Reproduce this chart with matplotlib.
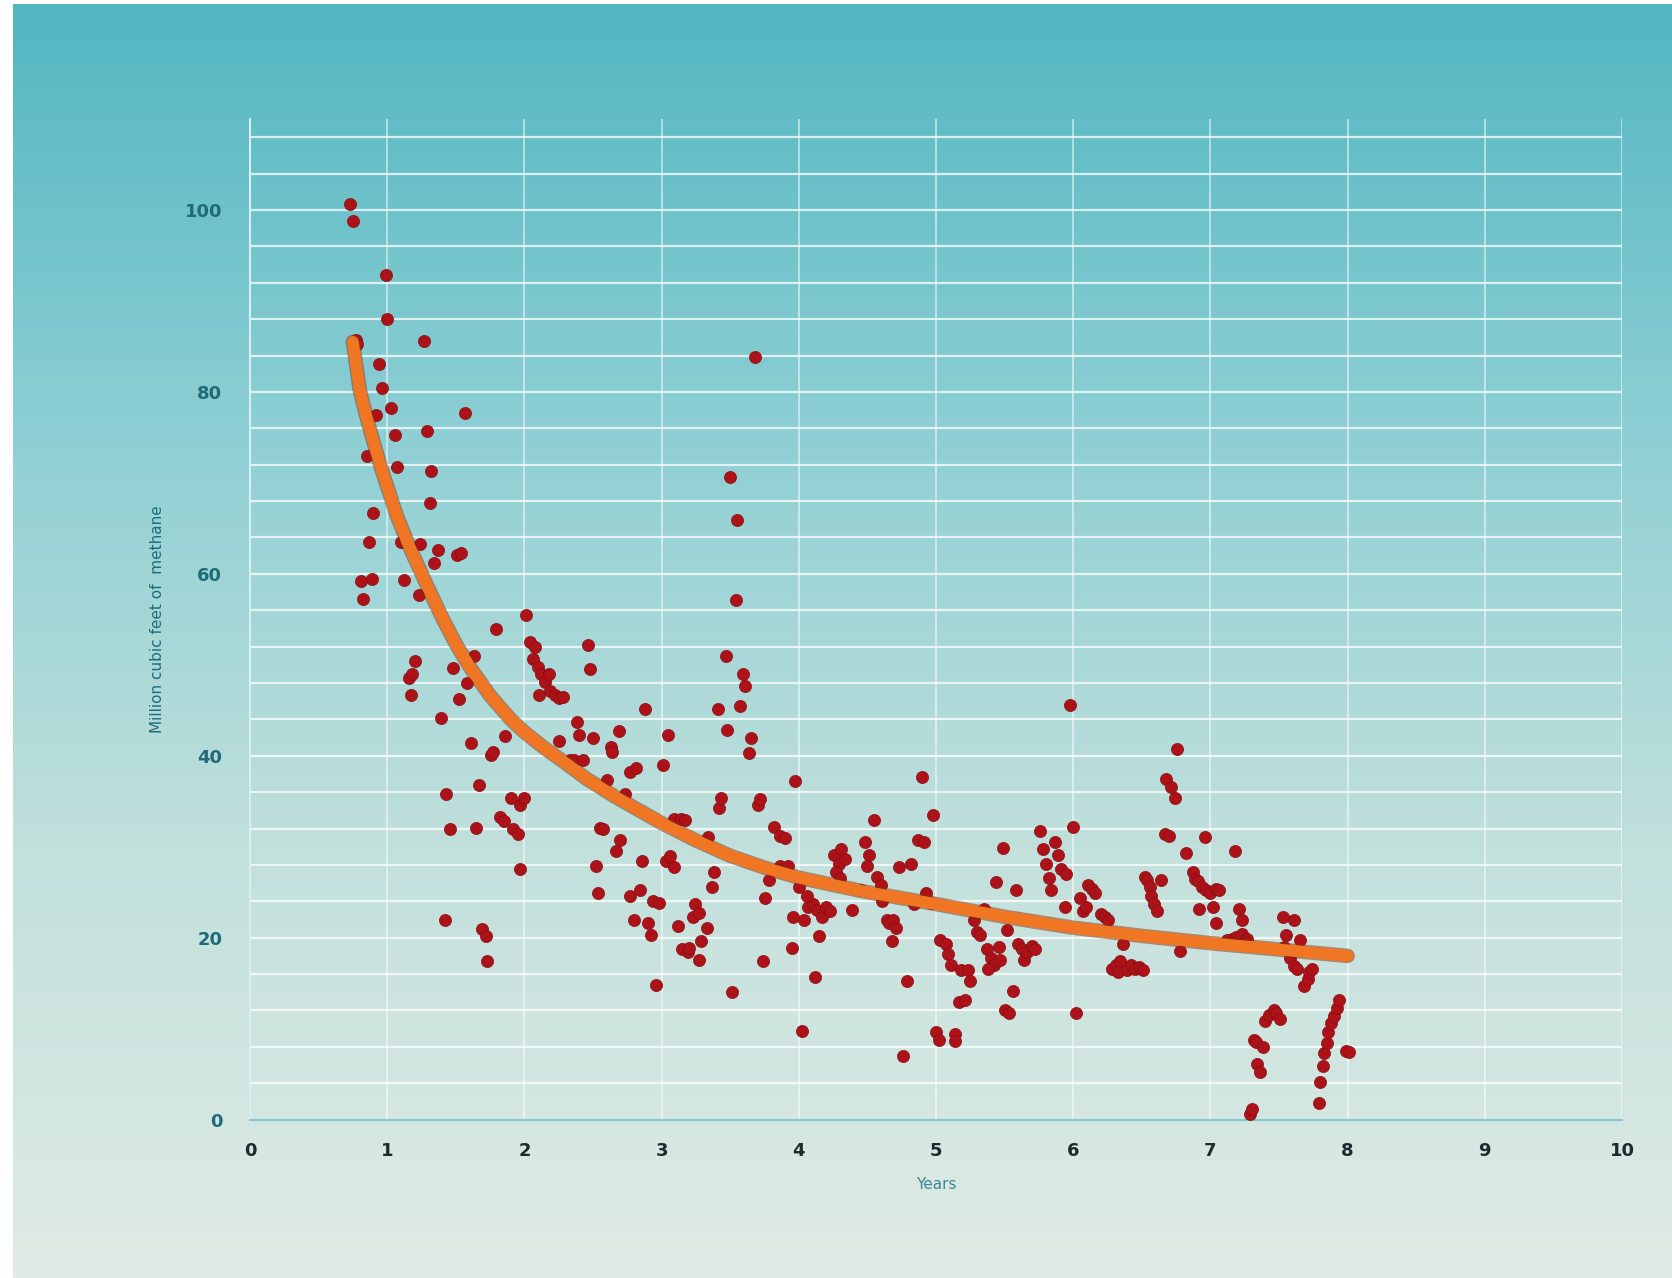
import numpy as np
import matplotlib
matplotlib.use('Agg')
import matplotlib.pyplot as plt
from matplotlib.colors import LinearSegmentedColormap

# monthly methane output
years = [0.73, 0.75, 0.77, 0.78, 0.81, 0.82, 0.89, 0.85, 0.87, 0.90, 0.92, 0.94, 0.96, 0.99, 1.00,
         1.03, 1.06, 1.07, 1.10, 1.12, 1.16, 1.18, 1.17, 1.20, 1.23, 1.24, 1.27, 1.29, 1.31, 1.32,
         1.34, 1.37, 1.39, 1.43, 1.42, 1.46, 1.48, 1.51, 1.54, 1.52, 1.57, 1.58, 1.61, 1.63, 1.65,
         1.67, 1.69, 1.72, 1.73, 1.76, 1.77, 1.79, 1.82, 1.86, 1.85, 1.90, 1.92, 1.95, 1.97, 1.97,
         2.00, 2.01, 2.04, 2.06, 2.08, 2.10, 2.12, 2.15, 2.18, 2.19, 2.22, 2.25, 2.28, 2.11, 2.25,
         2.33, 2.36, 2.43, 2.38, 2.40, 2.46, 2.48, 2.50, 2.52, 2.54, 2.55, 2.57, 2.60, 2.63, 2.64,
         2.69, 2.67, 2.70, 2.73, 2.77, 2.81, 2.77, 2.80, 2.84, 2.86, 2.88, 2.90, 2.92, 2.94, 2.98,
         2.96, 3.01, 3.05, 3.03, 3.06, 3.09, 3.09, 3.14, 3.17, 3.12, 3.15, 3.19, 3.20, 3.23, 3.24,
         3.27, 3.27, 3.29, 3.33, 3.34, 3.37, 3.38, 3.42, 3.41, 3.43, 3.47, 3.48, 3.50, 3.51, 3.54,
         3.55, 3.57, 3.59, 3.61, 3.64, 3.65, 3.68, 3.70, 3.72, 3.74, 3.78, 3.75, 3.82, 3.86, 3.90,
         3.86, 3.92, 3.95, 3.97, 3.96, 4.00, 4.02, 4.04, 4.07, 4.10, 4.13, 4.06, 4.12, 4.15, 4.17,
         4.20, 4.23, 4.26, 4.29, 4.31, 4.34, 4.27, 4.30, 4.39, 4.45, 4.48, 4.51, 4.50, 4.55, 4.57,
         4.60, 4.61, 4.64, 4.66, 4.69, 4.68, 4.71, 4.73, 4.76, 4.79, 4.82, 4.84, 4.87, 4.90, 4.91,
         4.93, 4.96, 4.98, 5.00, 5.02, 5.03, 5.07, 5.09, 5.11, 5.14, 5.14, 5.17, 5.18, 5.21, 5.23,
         5.25, 5.28, 5.30, 5.32, 5.35, 5.37, 5.40, 5.42, 5.38, 5.44, 5.46, 5.47, 5.49, 5.50, 5.53,
         5.52, 5.56, 5.58, 5.60, 5.63, 5.64, 5.66, 5.70, 5.72, 5.76, 5.78, 5.80, 5.82, 5.84, 5.87,
         5.89, 5.91, 5.94, 5.95, 5.98, 6.00, 6.02, 6.05, 6.07, 6.09, 6.11, 6.14, 6.16, 6.20, 6.23,
         6.25, 6.28, 6.31, 6.34, 6.33, 6.36, 6.39, 6.42, 6.45, 6.48, 6.51, 6.52, 6.54, 6.56, 6.57,
         6.59, 6.61, 6.64, 6.67, 6.70, 6.68, 6.71, 6.74, 6.76, 6.78, 6.82, 6.87, 6.89, 6.91, 6.94,
         6.97, 7.00, 7.04, 7.06, 6.92, 6.96, 7.02, 7.04, 7.18, 7.21, 7.23, 7.16, 7.19, 7.23, 7.12,
         7.27, 7.29, 7.30, 7.32, 7.33, 7.34, 7.36, 7.38, 7.40, 7.43, 7.46, 7.48, 7.51, 7.53, 7.55,
         7.54, 7.61, 7.58, 7.61, 7.63, 7.65, 7.68, 7.71, 7.72, 7.74, 7.79, 7.80, 7.82, 7.83, 7.85,
         7.86, 7.88, 7.90, 7.92, 7.94, 7.99, 8.01]
methane = [100.6, 98.8, 85.7, 85.3, 59.2, 57.2, 59.4, 72.9, 63.5, 66.7, 77.5, 83.1, 80.4, 92.8, 88.0,
           78.2, 75.3, 71.7, 63.5, 59.3, 48.5, 49.0, 46.7, 50.4, 57.7, 63.3, 85.6, 75.7, 67.8, 71.3,
           61.2, 62.6, 44.1, 35.8, 21.9, 32.0, 49.6, 62.1, 62.3, 46.2, 77.7, 48.0, 41.4, 51.0, 32.1,
           36.8, 21.0, 20.2, 17.4, 40.1, 40.4, 53.9, 33.3, 42.2, 32.8, 35.4, 31.9, 31.4, 27.5, 34.6,
           35.4, 55.5, 52.5, 50.6, 52.0, 49.8, 49.0, 48.1, 49.0, 47.1, 46.7, 46.3, 46.5, 46.7, 41.6,
           39.5, 39.5, 39.5, 43.7, 42.3, 52.2, 49.5, 42.0, 27.9, 24.9, 32.1, 31.9, 37.3, 41.0, 40.4,
           42.7, 29.5, 30.7, 35.8, 38.2, 38.7, 24.6, 22.0, 25.2, 28.4, 45.1, 21.6, 20.3, 24.0, 23.8,
           14.8, 39.0, 42.3, 28.4, 29.0, 27.8, 33.1, 33.1, 32.9, 21.3, 18.8, 18.4, 18.9, 22.3, 23.7,
           22.7, 17.6, 19.6, 21.1, 31.1, 25.6, 27.2, 34.3, 45.1, 35.4, 51.0, 42.8, 70.6, 14.0, 57.1,
           65.9, 45.5, 49.0, 47.7, 40.3, 42.0, 83.8, 34.6, 35.2, 17.4, 26.3, 24.4, 32.2, 31.2, 31.0,
           27.9, 27.9, 18.9, 37.2, 22.3, 25.6, 9.8, 22.0, 23.4, 23.7, 23.0, 24.6, 15.7, 20.2, 22.3,
           23.4, 22.9, 29.1, 28.1, 29.7, 28.6, 27.2, 26.6, 23.0, 25.2, 30.5, 29.1, 27.9, 32.9, 26.7,
           25.8, 24.0, 22.0, 21.6, 22.0, 19.6, 21.1, 27.8, 7.0, 15.2, 28.1, 23.7, 30.7, 37.7, 30.5,
           24.9, 23.8, 33.5, 9.6, 8.8, 19.7, 19.3, 18.2, 17.0, 9.4, 8.7, 12.9, 16.4, 13.2, 16.4,
           15.2, 22.0, 20.6, 20.3, 23.2, 18.8, 17.8, 17.0, 16.6, 26.1, 19.0, 17.6, 29.9, 12.1, 11.7,
           20.9, 14.1, 25.2, 19.3, 18.8, 17.6, 18.4, 19.1, 18.8, 31.7, 29.7, 28.1, 26.6, 25.2, 30.5,
           29.1, 27.5, 23.4, 27.0, 45.6, 32.2, 11.7, 24.4, 22.9, 23.4, 25.8, 25.4, 24.9, 22.6, 22.3,
           21.9, 16.6, 17.0, 17.4, 16.2, 19.3, 16.4, 17.0, 16.6, 16.8, 16.4, 26.7, 26.3, 25.6, 24.6,
           23.7, 22.9, 26.3, 31.4, 31.2, 37.5, 36.6, 35.4, 40.7, 18.5, 29.3, 27.2, 26.4, 26.2, 25.6,
           25.2, 24.9, 25.4, 25.2, 23.2, 31.1, 23.4, 21.6, 29.5, 23.2, 22.0, 19.9, 20.1, 20.4, 19.7,
           19.9, 0.6, 1.2, 8.8, 8.5, 6.1, 5.2, 8.0, 10.8, 11.5, 12.0, 11.7, 11.1, 22.3, 20.3,
           19.0, 22.0, 17.8, 16.9, 16.6, 19.7, 14.7, 15.5, 16.2, 16.6, 1.8, 4.1, 5.9, 7.3, 8.4,
           9.6, 10.6, 11.4, 12.3, 13.1, 7.6, 7.4]

# decline curve
fit_years = [0.75, 0.8, 0.85, 0.9, 0.95, 1.0, 1.07, 1.15, 1.2, 1.3, 1.4, 1.5, 1.6, 1.75, 1.9,
             2.0, 2.15, 2.3, 2.45, 2.65, 2.8, 3.0, 3.25, 3.5, 3.75, 4.0, 4.5, 5.0, 5.5, 6.0,
             6.5, 7.0, 7.5, 8.0]
fit_methane = [85.5, 80.2, 77.2, 74.5, 71.9, 69.6, 66.4, 63.4, 61.7, 58.4, 55.2, 52.3, 49.8, 46.6,
               44.0, 42.6, 40.8, 39.2, 37.5, 35.6, 34.3, 32.6, 30.7, 29.0, 27.7, 26.6, 25.0,
               23.7, 22.3, 21.1, 20.2, 19.4, 18.7, 18.0]

fig = plt.figure(figsize=(16.72, 12.78), dpi=100)
fig.patch.set_facecolor('white')

# gradient backdrop
bg = fig.add_axes([13 / 1672, 0, 1 - 13 / 1672, 1 - 4 / 1278])
bg.set_axis_off()
cmap = LinearSegmentedColormap.from_list('bg', ['#52b6c1', '#8dcfd4', '#c2e0dc', '#e0ebe5'])
grad = np.linspace(0, 1, 256).reshape(-1, 1)
bg.imshow(grad, aspect='auto', cmap=cmap, extent=[0, 1, 0, 1], origin='upper')
bg.set_xlim(0, 1)
bg.set_ylim(0, 1)

ax = fig.add_axes([250 / 1672, 0.1239, 1372 / 1672, 0.783])
ax.patch.set_alpha(0)
ax.set_xlim(0, 10)
ax.set_ylim(0, 110)

for s in ['top', 'right']:
    ax.spines[s].set_visible(False)
ax.spines['left'].set_color('#d6f0f1')
ax.spines['left'].set_linewidth(1.5)
ax.spines['bottom'].set_color('#86c8cc')
ax.spines['bottom'].set_linewidth(1.5)

yt = list(range(0, 109, 4))
ax.set_yticks(yt)
ax.set_yticklabels([str(v) if v % 20 == 0 else '' for v in yt])
ax.set_xticks(range(0, 11))
ax.tick_params(length=0)
ax.tick_params(axis='y', pad=20, labelsize=13, labelcolor='#1f6b78')
ax.tick_params(axis='x', pad=16, labelsize=13, labelcolor='#1e2a2c')
for lab in ax.get_xticklabels() + ax.get_yticklabels():
    lab.set_fontweight('bold')

ax.grid(True, axis='y', color='white', alpha=0.75, linewidth=1.6)
ax.grid(True, axis='x', color='white', alpha=0.55, linewidth=1.3)
ax.set_axisbelow(True)

ax.set_xlabel('Years', fontsize=11, color='#3a8893', labelpad=12)
ax.set_ylabel('Million cubic feet of  methane', fontsize=11, color='#1f6b78', labelpad=14)

ax.scatter(years, methane, s=76, color='#ae1219', edgecolors='#850d12', linewidths=0.5, zorder=3)

ax.plot(fit_years, fit_methane, color='#7a3210', linewidth=10.5, alpha=0.5,
        solid_capstyle='round', solid_joinstyle='round', zorder=4)
ax.plot(fit_years, fit_methane, color='#f07624', linewidth=8.5,
        solid_capstyle='round', solid_joinstyle='round', zorder=5)

fig.savefig('out.png', dpi=100)
